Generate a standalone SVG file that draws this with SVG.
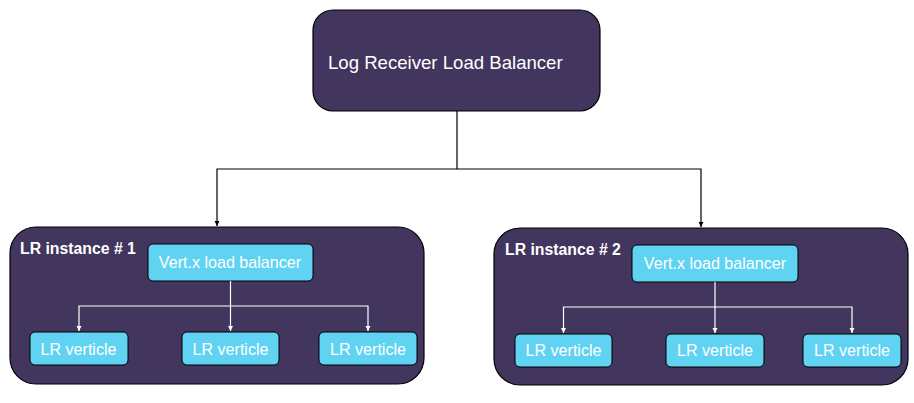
<svg xmlns="http://www.w3.org/2000/svg" width="914" height="403" viewBox="0 0 914 403">
<style>
.dark{fill:#42355e;stroke:#000;stroke-width:1.2}
.cyan{fill:#60d3f2;stroke:#000;stroke-width:1}
.t{font-family:"Liberation Sans",Arial,sans-serif;fill:#fff}
.big{font-size:18.6px}
.mid{font-size:16.1px;text-anchor:middle}
.bold{font-size:15.8px;font-weight:bold}
.cb{fill:none;stroke:#000;stroke-width:1.2}
.cw{fill:none;stroke:#fff;stroke-width:1.2}
</style>
<defs>
<marker id="ab" markerWidth="6" markerHeight="6" refX="5" refY="3" orient="auto" markerUnits="userSpaceOnUse"><path d="M0,0.5 L5,3 L0,5.5 Z" fill="#000"/></marker>
<marker id="aw" markerWidth="6" markerHeight="6" refX="5" refY="3" orient="auto" markerUnits="userSpaceOnUse"><path d="M0,0.5 L5,3 L0,5.5 Z" fill="#fff"/></marker>
</defs>
<g id="lrlb"><rect class="dark" x="313" y="10" width="287" height="101" rx="20"/><text class="t big" x="328" y="69">Log Receiver Load Balancer</text></g>
<g id="inst1"><rect class="dark" x="10" y="227" width="414" height="157" rx="26"/><text class="t bold" x="20" y="254">LR instance # 1</text></g>
<g id="inst2"><rect class="dark" x="494" y="228" width="414" height="157" rx="26"/><text class="t bold" x="505" y="255">LR instance # 2</text></g>
<g id="vlb1"><rect class="cyan" x="148" y="244" width="165" height="37" rx="5"/><text class="t mid" x="230" y="268">Vert.x load balancer</text></g>
<g id="vlb2"><rect class="cyan" x="632" y="245" width="166" height="37" rx="5"/><text class="t mid" x="715" y="269">Vert.x load balancer</text></g>
<g id="v11"><rect class="cyan" x="30" y="332" width="98" height="33" rx="5"/><text class="t mid" x="78.5" y="354.5">LR verticle</text></g>
<g id="v12"><rect class="cyan" x="182" y="332" width="97" height="33" rx="5"/><text class="t mid" x="230.5" y="354.5">LR verticle</text></g>
<g id="v13"><rect class="cyan" x="319" y="332" width="98" height="33" rx="5"/><text class="t mid" x="368" y="354.5">LR verticle</text></g>
<g id="v21"><rect class="cyan" x="515" y="334" width="97" height="33" rx="5"/><text class="t mid" x="563.5" y="356">LR verticle</text></g>
<g id="v22"><rect class="cyan" x="666" y="334" width="98" height="33" rx="5"/><text class="t mid" x="715" y="356">LR verticle</text></g>
<g id="v23"><rect class="cyan" x="803" y="334" width="98" height="33" rx="5"/><text class="t mid" x="852" y="356">LR verticle</text></g>
<g id="connectors">
<path class="cb" d="M457,111 V169 H217 V226" marker-end="url(#ab)"/>
<path class="cb" d="M457,169 H701 V227" marker-end="url(#ab)"/>
<path class="cw" d="M230.5,281 V306 H79 V331" marker-end="url(#aw)"/>
<path class="cw" d="M230.5,306 V331" marker-end="url(#aw)"/>
<path class="cw" d="M230.5,306 H368 V331" marker-end="url(#aw)"/>
<path class="cw" d="M715,282 V307 H563.5 V333" marker-end="url(#aw)"/>
<path class="cw" d="M715,307 V333" marker-end="url(#aw)"/>
<path class="cw" d="M715,307 H852 V333" marker-end="url(#aw)"/>
</g>
</svg>
